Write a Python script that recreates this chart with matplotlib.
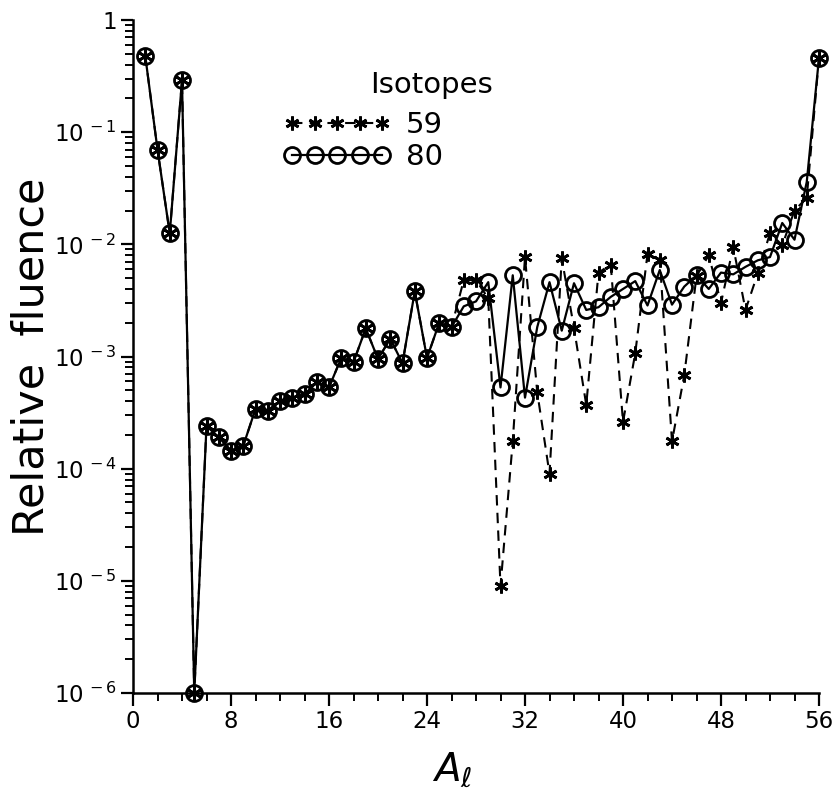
import matplotlib
matplotlib.use("Agg")
import matplotlib.pyplot as plt
from matplotlib.ticker import FixedLocator, FixedFormatter, LogLocator, NullFormatter, MultipleLocator

# ---------------- data ----------------
A = list(range(1, 57))

common = [0.48, 0.070, 0.0125, 0.29, 1.0e-6, 2.4e-4, 1.9e-4, 1.45e-4, 1.6e-4, 3.4e-4,
          3.3e-4, 4.0e-4, 4.3e-4, 4.6e-4, 5.9e-4, 5.3e-4, 9.7e-4, 8.9e-4, 1.78e-3, 9.5e-4,
          1.44e-3, 8.7e-4, 3.8e-3, 9.7e-4, 2.0e-3, 1.83e-3]

iso80_tail = [2.8e-3, 3.1e-3, 4.6e-3, 5.3e-4, 5.3e-3, 4.3e-4, 1.83e-3, 4.6e-3, 1.7e-3, 4.5e-3,
              2.6e-3, 2.75e-3, 3.4e-3, 4.0e-3, 4.7e-3, 2.85e-3, 5.9e-3, 2.9e-3, 4.2e-3, 5.3e-3,
              4.0e-3, 5.6e-3, 5.4e-3, 6.3e-3, 7.2e-3, 7.7e-3, 1.55e-2, 1.1e-2, 3.6e-2, 0.46]

iso59_tail = [4.8e-3, 4.8e-3, 3.3e-3, 9.0e-6, 1.75e-4, 7.7e-3, 4.8e-4, 9.0e-5, 7.5e-3, 1.8e-3,
              3.7e-4, 5.6e-3, 6.6e-3, 2.6e-4, 1.07e-3, 8.2e-3, 7.3e-3, 1.75e-4, 6.8e-4, 5.2e-3,
              8.0e-3, 3.0e-3, 9.5e-3, 2.6e-3, 5.5e-3, 1.26e-2, 9.8e-3, 2.0e-2, 2.6e-2, 0.46]

iso59 = common + iso59_tail
iso80 = common + iso80_tail

series_labels = ["59", "80"]
legend_title = "Isotopes"
x_ticks = [0, 8, 16, 24, 32, 40, 48, 56]
y_ticks = [1e-6, 1e-5, 1e-4, 1e-3, 1e-2, 1e-1, 1]
y_ticklabels = [r"$10^{\,-6}$", r"$10^{\,-5}$", r"$10^{\,-4}$", r"$10^{\,-3}$",
                r"$10^{\,-2}$", r"$10^{\,-1}$", r"$1\ \ \ \ $"]
x_label = r"$A_\ell$"
y_label = "Relative  fluence"

# ---------------- figure ----------------
plt.rcParams["font.family"] = ["DejaVu Sans"]
fig = plt.figure(figsize=(8.33, 7.89), dpi=100)
ax = fig.add_axes([133 / 833, 1 - 693 / 789, 686 / 833, 673 / 789])

star = (6, 2, 0)
l59, = ax.plot(A, iso59, linestyle=(0, (5, 3.5)), color="black", lw=1.5,
               marker=star, markersize=10, markeredgewidth=2.0, clip_on=False,
               label=series_labels[0], zorder=3)
l80, = ax.plot(A, iso80, linestyle="-", color="black", lw=1.6,
               marker="o", markersize=11.5, markerfacecolor="none",
               markeredgewidth=2.0, clip_on=False, label=series_labels[1], zorder=4)

ax.set_yscale("log")
ax.set_xlim(0, 56)
ax.set_ylim(1e-6, 1)

ax.xaxis.set_major_locator(FixedLocator(x_ticks))
ax.xaxis.set_minor_locator(MultipleLocator(2))
ax.yaxis.set_major_locator(FixedLocator(y_ticks))
ax.yaxis.set_major_formatter(FixedFormatter(y_ticklabels))
ax.yaxis.set_minor_locator(LogLocator(base=10, subs=range(2, 10), numticks=20))
ax.yaxis.set_minor_formatter(NullFormatter())

for s in ["top", "right"]:
    ax.spines[s].set_visible(False)
for s in ["left", "bottom"]:
    ax.spines[s].set_linewidth(1.8)

ax.tick_params(axis="both", which="major", direction="out", length=9, width=1.6,
               labelsize=16.5, pad=3)
ax.tick_params(axis="both", which="minor", direction="out", length=6, width=1.4)

ax.set_xlabel(x_label, fontsize=28)
ax.xaxis.set_label_coords(0.465, -0.085)
ax.set_ylabel(y_label, fontsize=31)
ax.yaxis.set_label_coords(-0.118, 0.5)

leg = ax.legend(handles=[l59, l80], labels=series_labels, numpoints=5,
                handlelength=3.7, handletextpad=0.5, labelspacing=0.15,
                fontsize=21, frameon=False, borderpad=0, borderaxespad=0,
                loc="center left", bbox_to_anchor=(0.219, 0.820))
ax.text(0.345, 0.8915, legend_title, transform=ax.transAxes, fontsize=21,
        ha="left", va="baseline")

fig.savefig("out.png", dpi=100)
